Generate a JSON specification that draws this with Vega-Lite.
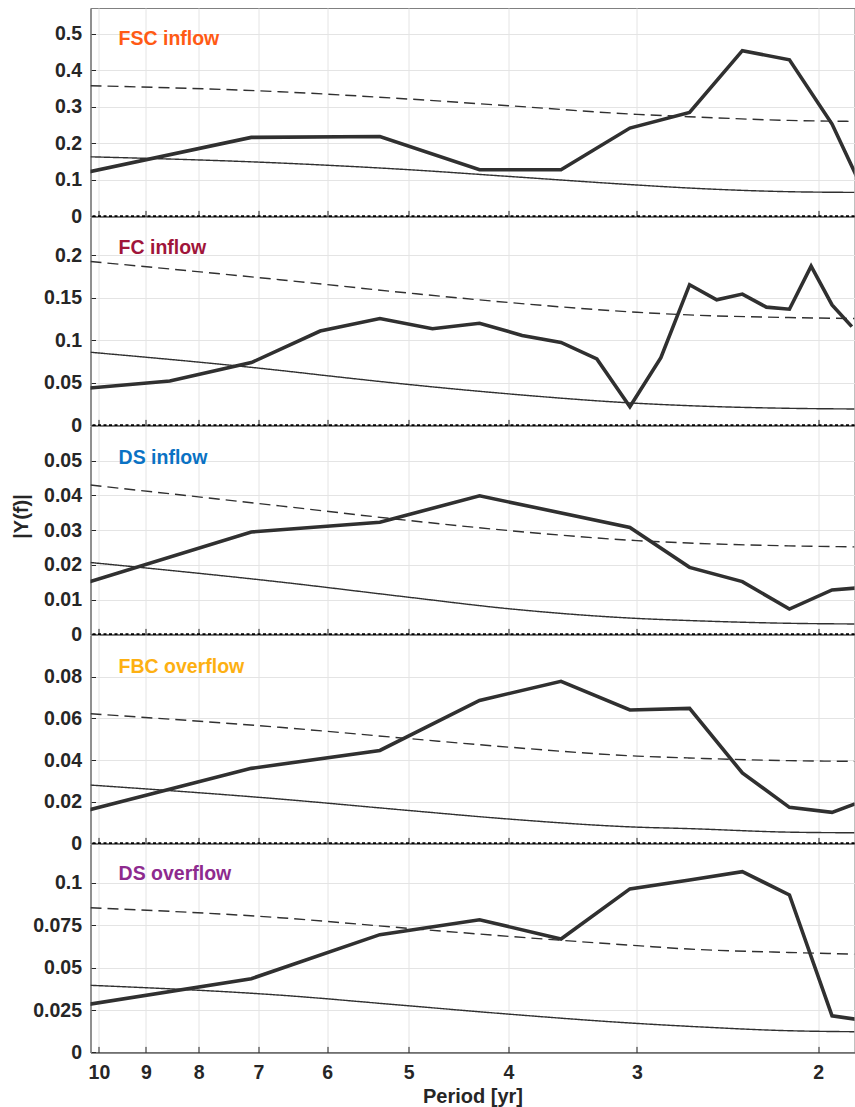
{
"$schema": "https://vega.github.io/schema/vega-lite/v6.json",
"background": "white",
"padding": {"left": 10.5, "top": 7, "right": 0, "bottom": 0},
"bounds": "flush",
"spacing": 0,
"config": {
 "font": "Liberation Sans",
 "view": {"stroke": "#808080", "strokeWidth": 1},
 "axis": {"labelFont": "Liberation Sans", "labelFontWeight": "bold", "labelFontSize": 19.5, "labelColor": "#262626", "titleFont": "Liberation Sans", "titleFontWeight": "bold", "titleFontSize": 20, "titleColor": "#262626", "gridColor": "#e4e4e4", "gridWidth": 1, "gridOpacity": 1, "tickColor": "#262626", "labelFlush": false, "labelOverlap": false}
},
"datasets": {
 "d": [
  {"p":"FSC","s":"obs","period":10.667,"v":0.111},
  {"p":"FSC","s":"obs","period":7.111,"v":0.2165},
  {"p":"FSC","s":"obs","period":5.333,"v":0.219},
  {"p":"FSC","s":"obs","period":4.267,"v":0.128},
  {"p":"FSC","s":"obs","period":3.556,"v":0.128},
  {"p":"FSC","s":"obs","period":3.048,"v":0.242},
  {"p":"FSC","s":"obs","period":2.667,"v":0.285},
  {"p":"FSC","s":"obs","period":2.370,"v":0.454},
  {"p":"FSC","s":"obs","period":2.133,"v":0.429},
  {"p":"FSC","s":"obs","period":1.939,"v":0.253},
  {"p":"FSC","s":"obs","period":1.778,"v":0.027},
  {"p":"FSC","s":"red","period":10.19,"v":0.1633},
  {"p":"FSC","s":"red","period":6.674,"v":0.1463},
  {"p":"FSC","s":"red","period":5,"v":0.128},
  {"p":"FSC","s":"red","period":4,"v":0.1096},
  {"p":"FSC","s":"red","period":3,"v":0.086},
  {"p":"FSC","s":"red","period":2.673,"v":0.0778},
  {"p":"FSC","s":"red","period":2.137,"v":0.0677},
  {"p":"FSC","s":"red","period":1.844,"v":0.0658},
  {"p":"FSC","s":"conf","period":10.19,"v":0.358},
  {"p":"FSC","s":"conf","period":6.674,"v":0.3416},
  {"p":"FSC","s":"conf","period":5,"v":0.3216},
  {"p":"FSC","s":"conf","period":4,"v":0.3033},
  {"p":"FSC","s":"conf","period":3,"v":0.2795},
  {"p":"FSC","s":"conf","period":2.673,"v":0.2732},
  {"p":"FSC","s":"conf","period":2.137,"v":0.263},
  {"p":"FSC","s":"conf","period":1.844,"v":0.2603},

  {"p":"FC","s":"obs","period":10.667,"v":0.042},
  {"p":"FC","s":"obs","period":8.533,"v":0.0521},
  {"p":"FC","s":"obs","period":7.111,"v":0.0738},
  {"p":"FC","s":"obs","period":6.095,"v":0.1109},
  {"p":"FC","s":"obs","period":5.333,"v":0.1256},
  {"p":"FC","s":"obs","period":4.741,"v":0.1137},
  {"p":"FC","s":"obs","period":4.267,"v":0.12},
  {"p":"FC","s":"obs","period":3.879,"v":0.1058},
  {"p":"FC","s":"obs","period":3.556,"v":0.0975},
  {"p":"FC","s":"obs","period":3.282,"v":0.0782},
  {"p":"FC","s":"obs","period":3.048,"v":0.022},
  {"p":"FC","s":"obs","period":2.844,"v":0.0797},
  {"p":"FC","s":"obs","period":2.667,"v":0.1654},
  {"p":"FC","s":"obs","period":2.510,"v":0.1477},
  {"p":"FC","s":"obs","period":2.370,"v":0.1544},
  {"p":"FC","s":"obs","period":2.246,"v":0.139},
  {"p":"FC","s":"obs","period":2.133,"v":0.1366},
  {"p":"FC","s":"obs","period":2.032,"v":0.1872},
  {"p":"FC","s":"obs","period":1.939,"v":0.1417},
  {"p":"FC","s":"obs","period":1.855,"v":0.1161},
  {"p":"FC","s":"red","period":10.19,"v":0.086},
  {"p":"FC","s":"red","period":6.674,"v":0.0647},
  {"p":"FC","s":"red","period":6,"v":0.0584},
  {"p":"FC","s":"red","period":5,"v":0.0481},
  {"p":"FC","s":"red","period":4,"v":0.0371},
  {"p":"FC","s":"red","period":3,"v":0.026},
  {"p":"FC","s":"red","period":2.673,"v":0.0232},
  {"p":"FC","s":"red","period":2.137,"v":0.0201},
  {"p":"FC","s":"red","period":1.844,"v":0.0193},
  {"p":"FC","s":"conf","period":10.19,"v":0.1927},
  {"p":"FC","s":"conf","period":6.674,"v":0.1713},
  {"p":"FC","s":"conf","period":5,"v":0.1556},
  {"p":"FC","s":"conf","period":4,"v":0.1445},
  {"p":"FC","s":"conf","period":3,"v":0.133},
  {"p":"FC","s":"conf","period":2.673,"v":0.1299},
  {"p":"FC","s":"conf","period":2.137,"v":0.1268},
  {"p":"FC","s":"conf","period":1.844,"v":0.1256},

  {"p":"DSI","s":"obs","period":10.667,"v":0.0134},
  {"p":"DSI","s":"obs","period":7.111,"v":0.0295},
  {"p":"DSI","s":"obs","period":5.333,"v":0.0323},
  {"p":"DSI","s":"obs","period":4.267,"v":0.0399},
  {"p":"DSI","s":"obs","period":3.048,"v":0.0308},
  {"p":"DSI","s":"obs","period":2.667,"v":0.0193},
  {"p":"DSI","s":"obs","period":2.370,"v":0.0152},
  {"p":"DSI","s":"obs","period":2.133,"v":0.0073},
  {"p":"DSI","s":"obs","period":1.939,"v":0.0128},
  {"p":"DSI","s":"obs","period":1.778,"v":0.0137},
  {"p":"DSI","s":"red","period":10.19,"v":0.0207},
  {"p":"DSI","s":"red","period":6.674,"v":0.0151},
  {"p":"DSI","s":"red","period":5,"v":0.0107},
  {"p":"DSI","s":"red","period":4,"v":0.0074},
  {"p":"DSI","s":"red","period":3,"v":0.0046},
  {"p":"DSI","s":"red","period":2.673,"v":0.004},
  {"p":"DSI","s":"red","period":2.137,"v":0.0032},
  {"p":"DSI","s":"red","period":1.844,"v":0.003},
  {"p":"DSI","s":"conf","period":10.19,"v":0.043},
  {"p":"DSI","s":"conf","period":6.674,"v":0.037},
  {"p":"DSI","s":"conf","period":5,"v":0.0328},
  {"p":"DSI","s":"conf","period":4,"v":0.0299},
  {"p":"DSI","s":"conf","period":3,"v":0.027},
  {"p":"DSI","s":"conf","period":2.673,"v":0.0263},
  {"p":"DSI","s":"conf","period":2.137,"v":0.0255},
  {"p":"DSI","s":"conf","period":1.844,"v":0.0252},

  {"p":"FBC","s":"obs","period":10.667,"v":0.0138},
  {"p":"FBC","s":"obs","period":7.111,"v":0.036},
  {"p":"FBC","s":"obs","period":5.333,"v":0.0446},
  {"p":"FBC","s":"obs","period":4.267,"v":0.0686},
  {"p":"FBC","s":"obs","period":3.556,"v":0.0778},
  {"p":"FBC","s":"obs","period":3.048,"v":0.064},
  {"p":"FBC","s":"obs","period":2.667,"v":0.0648},
  {"p":"FBC","s":"obs","period":2.370,"v":0.0338},
  {"p":"FBC","s":"obs","period":2.133,"v":0.0173},
  {"p":"FBC","s":"obs","period":1.939,"v":0.0149},
  {"p":"FBC","s":"obs","period":1.778,"v":0.0218},
  {"p":"FBC","s":"red","period":10.19,"v":0.028},
  {"p":"FBC","s":"red","period":6.674,"v":0.0213},
  {"p":"FBC","s":"red","period":5,"v":0.0158},
  {"p":"FBC","s":"red","period":4,"v":0.0117},
  {"p":"FBC","s":"red","period":3,"v":0.0078},
  {"p":"FBC","s":"red","period":2.673,"v":0.0071},
  {"p":"FBC","s":"red","period":2.137,"v":0.0054},
  {"p":"FBC","s":"red","period":1.844,"v":0.0051},
  {"p":"FBC","s":"conf","period":10.19,"v":0.0622},
  {"p":"FBC","s":"conf","period":6.674,"v":0.0557},
  {"p":"FBC","s":"conf","period":5,"v":0.0503},
  {"p":"FBC","s":"conf","period":4,"v":0.0462},
  {"p":"FBC","s":"conf","period":3,"v":0.0419},
  {"p":"FBC","s":"conf","period":2.673,"v":0.041},
  {"p":"FBC","s":"conf","period":2.137,"v":0.0397},
  {"p":"FBC","s":"conf","period":1.844,"v":0.0394},

  {"p":"DSO","s":"obs","period":10.667,"v":0.0266},
  {"p":"DSO","s":"obs","period":7.111,"v":0.0435},
  {"p":"DSO","s":"obs","period":5.333,"v":0.0695},
  {"p":"DSO","s":"obs","period":4.267,"v":0.0783},
  {"p":"DSO","s":"obs","period":3.556,"v":0.0669},
  {"p":"DSO","s":"obs","period":3.048,"v":0.0965},
  {"p":"DSO","s":"obs","period":2.667,"v":0.1018},
  {"p":"DSO","s":"obs","period":2.370,"v":0.1067},
  {"p":"DSO","s":"obs","period":2.133,"v":0.0929},
  {"p":"DSO","s":"obs","period":1.939,"v":0.0216},
  {"p":"DSO","s":"obs","period":1.778,"v":0.0183},
  {"p":"DSO","s":"red","period":10.19,"v":0.0396},
  {"p":"DSO","s":"red","period":6.674,"v":0.0338},
  {"p":"DSO","s":"red","period":5,"v":0.0275},
  {"p":"DSO","s":"red","period":4,"v":0.0226},
  {"p":"DSO","s":"red","period":3,"v":0.0171},
  {"p":"DSO","s":"red","period":2.673,"v":0.0154},
  {"p":"DSO","s":"red","period":2.137,"v":0.0128},
  {"p":"DSO","s":"red","period":1.844,"v":0.0122},
  {"p":"DSO","s":"conf","period":10.19,"v":0.0854},
  {"p":"DSO","s":"conf","period":6.674,"v":0.0795},
  {"p":"DSO","s":"conf","period":5,"v":0.0732},
  {"p":"DSO","s":"conf","period":4,"v":0.0685},
  {"p":"DSO","s":"conf","period":3,"v":0.063},
  {"p":"DSO","s":"conf","period":2.673,"v":0.061},
  {"p":"DSO","s":"conf","period":2.137,"v":0.059},
  {"p":"DSO","s":"conf","period":1.844,"v":0.058}
 ]
},
"vconcat": [
 {"width": 764, "height": 208.4,
  "layer": [
   {"data": {"values": [{}]}, "mark": {"type": "rule", "color": "#000000", "strokeWidth": 2.4, "strokeDash": [3, 2.5]}, "encoding": {"y": {"datum": 0, "type": "quantitative"}}},
   {"data": {"name": "d"}, "transform": [{"filter": "datum.p === 'FSC' && datum.s !== 'obs'"}],
    "mark": {"type": "line", "interpolate": "monotone", "clip": true, "color": "#303030", "strokeWidth": 1.4},
    "encoding": {
     "x": {"field": "period", "type": "quantitative", "scale": {"type": "log", "domain": [1.844, 10.19], "reverse": true, "nice": false}, "axis": {"values": [2,3,4,5,6,7,8,9,10], "format": "d", "grid": true, "labels": false, "title": null, "tickSize": -6, "domainColor": "#262626"}},
     "y": {"field": "v", "type": "quantitative", "scale": {"domain": [0, 0.571], "nice": false, "zero": false}, "axis": {"values": [0, 0.1, 0.2, 0.3, 0.4, 0.5], "format": "~g", "grid": true, "title": null, "tickSize": -5, "labelPadding": 14, "domainColor": "#808080", "domainWidth": 1.5}},
     "detail": {"field": "s"},
     "strokeDash": {"field": "s", "type": "nominal", "scale": {"domain": ["red", "conf"], "range": [[1, 0], [11, 6]]}, "legend": null}
    }},
   {"data": {"name": "d"}, "transform": [{"filter": "datum.p === 'FSC' && datum.s === 'obs'"}],
    "mark": {"type": "line", "clip": true, "color": "#303030", "strokeWidth": 3.6},
    "encoding": {"x": {"field": "period", "type": "quantitative"}, "y": {"field": "v", "type": "quantitative"}}},
   {"data": {"values": [{"label": "FSC inflow"}]}, "mark": {"type": "text", "align": "left", "baseline": "alphabetic", "fontSize": 19.5, "fontWeight": "bold", "color": "#FF5A14", "font": "Liberation Sans"},
    "encoding": {"x": {"datum": 9.57}, "y": {"datum": 0.47}, "text": {"field": "label"}}}
  ]},
 {"width": 764, "height": 208.4,
  "layer": [
   {"data": {"values": [{}]}, "mark": {"type": "rule", "color": "#000000", "strokeWidth": 2.4, "strokeDash": [3, 2.5]}, "encoding": {"y": {"datum": 0, "type": "quantitative"}}},
   {"data": {"name": "d"}, "transform": [{"filter": "datum.p === 'FC' && datum.s !== 'obs'"}],
    "mark": {"type": "line", "interpolate": "monotone", "clip": true, "color": "#303030", "strokeWidth": 1.4},
    "encoding": {
     "x": {"field": "period", "type": "quantitative", "scale": {"type": "log", "domain": [1.844, 10.19], "reverse": true, "nice": false}, "axis": {"values": [2,3,4,5,6,7,8,9,10], "format": "d", "grid": true, "labels": false, "title": null, "tickSize": -6, "domainColor": "#262626"}},
     "y": {"field": "v", "type": "quantitative", "scale": {"domain": [0, 0.245], "nice": false, "zero": false}, "axis": {"values": [0, 0.05, 0.1, 0.15, 0.2], "format": "~g", "grid": true, "title": null, "tickSize": -5, "labelPadding": 14, "domainColor": "#808080", "domainWidth": 1.5}},
     "detail": {"field": "s"},
     "strokeDash": {"field": "s", "type": "nominal", "scale": {"domain": ["red", "conf"], "range": [[1, 0], [11, 6]]}, "legend": null}
    }},
   {"data": {"name": "d"}, "transform": [{"filter": "datum.p === 'FC' && datum.s === 'obs'"}],
    "mark": {"type": "line", "clip": true, "color": "#303030", "strokeWidth": 3.6},
    "encoding": {"x": {"field": "period", "type": "quantitative"}, "y": {"field": "v", "type": "quantitative"}}},
   {"data": {"values": [{"label": "FC inflow"}]}, "mark": {"type": "text", "align": "left", "baseline": "alphabetic", "fontSize": 19.5, "fontWeight": "bold", "color": "#A0153A", "font": "Liberation Sans"},
    "encoding": {"x": {"datum": 9.57}, "y": {"datum": 0.202}, "text": {"field": "label"}}}
  ]},
 {"width": 764, "height": 208.4,
  "layer": [
   {"data": {"values": [{}]}, "mark": {"type": "rule", "color": "#000000", "strokeWidth": 2.4, "strokeDash": [3, 2.5]}, "encoding": {"y": {"datum": 0, "type": "quantitative"}}},
   {"data": {"name": "d"}, "transform": [{"filter": "datum.p === 'DSI' && datum.s !== 'obs'"}],
    "mark": {"type": "line", "interpolate": "monotone", "clip": true, "color": "#303030", "strokeWidth": 1.4},
    "encoding": {
     "x": {"field": "period", "type": "quantitative", "scale": {"type": "log", "domain": [1.844, 10.19], "reverse": true, "nice": false}, "axis": {"values": [2,3,4,5,6,7,8,9,10], "format": "d", "grid": true, "labels": false, "title": null, "tickSize": -6, "domainColor": "#262626"}},
     "y": {"field": "v", "type": "quantitative", "scale": {"domain": [0, 0.06], "nice": false, "zero": false}, "axis": {"values": [0, 0.01, 0.02, 0.03, 0.04, 0.05], "format": "~g", "grid": true, "title": "|Y(f)|", "titlePadding": 12, "titleY": 90, "tickSize": -5, "labelPadding": 14, "domainColor": "#808080", "domainWidth": 1.5}},
     "detail": {"field": "s"},
     "strokeDash": {"field": "s", "type": "nominal", "scale": {"domain": ["red", "conf"], "range": [[1, 0], [11, 6]]}, "legend": null}
    }},
   {"data": {"name": "d"}, "transform": [{"filter": "datum.p === 'DSI' && datum.s === 'obs'"}],
    "mark": {"type": "line", "clip": true, "color": "#303030", "strokeWidth": 3.6},
    "encoding": {"x": {"field": "period", "type": "quantitative"}, "y": {"field": "v", "type": "quantitative"}}},
   {"data": {"values": [{"label": "DS inflow"}]}, "mark": {"type": "text", "align": "left", "baseline": "alphabetic", "fontSize": 19.5, "fontWeight": "bold", "color": "#0A72C4", "font": "Liberation Sans"},
    "encoding": {"x": {"datum": 9.57}, "y": {"datum": 0.049}, "text": {"field": "label"}}}
  ]},
 {"width": 764, "height": 208.4,
  "layer": [
   {"data": {"values": [{}]}, "mark": {"type": "rule", "color": "#000000", "strokeWidth": 2.4, "strokeDash": [3, 2.5]}, "encoding": {"y": {"datum": 0, "type": "quantitative"}}},
   {"data": {"name": "d"}, "transform": [{"filter": "datum.p === 'FBC' && datum.s !== 'obs'"}],
    "mark": {"type": "line", "interpolate": "monotone", "clip": true, "color": "#303030", "strokeWidth": 1.4},
    "encoding": {
     "x": {"field": "period", "type": "quantitative", "scale": {"type": "log", "domain": [1.844, 10.19], "reverse": true, "nice": false}, "axis": {"values": [2,3,4,5,6,7,8,9,10], "format": "d", "grid": true, "labels": false, "title": null, "tickSize": -6, "domainColor": "#262626"}},
     "y": {"field": "v", "type": "quantitative", "scale": {"domain": [0, 0.1], "nice": false, "zero": false}, "axis": {"values": [0, 0.02, 0.04, 0.06, 0.08], "format": "~g", "grid": true, "title": null, "tickSize": -5, "labelPadding": 14, "domainColor": "#808080", "domainWidth": 1.5}},
     "detail": {"field": "s"},
     "strokeDash": {"field": "s", "type": "nominal", "scale": {"domain": ["red", "conf"], "range": [[1, 0], [11, 6]]}, "legend": null}
    }},
   {"data": {"name": "d"}, "transform": [{"filter": "datum.p === 'FBC' && datum.s === 'obs'"}],
    "mark": {"type": "line", "clip": true, "color": "#303030", "strokeWidth": 3.6},
    "encoding": {"x": {"field": "period", "type": "quantitative"}, "y": {"field": "v", "type": "quantitative"}}},
   {"data": {"values": [{"label": "FBC overflow"}]}, "mark": {"type": "text", "align": "left", "baseline": "alphabetic", "fontSize": 19.5, "fontWeight": "bold", "color": "#FDB012", "font": "Liberation Sans"},
    "encoding": {"x": {"datum": 9.57}, "y": {"datum": 0.082}, "text": {"field": "label"}}}
  ]},
 {"width": 764, "height": 208.4,
  "layer": [
   {"data": {"name": "d"}, "transform": [{"filter": "datum.p === 'DSO' && datum.s !== 'obs'"}],
    "mark": {"type": "line", "interpolate": "monotone", "clip": true, "color": "#303030", "strokeWidth": 1.4},
    "encoding": {
     "x": {"field": "period", "type": "quantitative", "scale": {"type": "log", "domain": [1.844, 10.19], "reverse": true, "nice": false}, "axis": {"values": [2,3,4,5,6,7,8,9,10], "format": "d", "grid": true, "labels": true, "title": "Period [yr]", "tickSize": -6, "labelPadding": 17.5, "titlePadding": 4.5, "domainColor": "#262626"}},
     "y": {"field": "v", "type": "quantitative", "scale": {"domain": [0, 0.123], "nice": false, "zero": false}, "axis": {"values": [0, 0.025, 0.05, 0.075, 0.1], "format": "~g", "grid": true, "title": null, "tickSize": -5, "labelPadding": 14, "domainColor": "#808080", "domainWidth": 1.5}},
     "detail": {"field": "s"},
     "strokeDash": {"field": "s", "type": "nominal", "scale": {"domain": ["red", "conf"], "range": [[1, 0], [11, 6]]}, "legend": null}
    }},
   {"data": {"name": "d"}, "transform": [{"filter": "datum.p === 'DSO' && datum.s === 'obs'"}],
    "mark": {"type": "line", "clip": true, "color": "#303030", "strokeWidth": 3.6},
    "encoding": {"x": {"field": "period", "type": "quantitative"}, "y": {"field": "v", "type": "quantitative"}}},
   {"data": {"values": [{"label": "DS overflow"}]}, "mark": {"type": "text", "align": "left", "baseline": "alphabetic", "fontSize": 19.5, "fontWeight": "bold", "color": "#8E2A8E", "font": "Liberation Sans"},
    "encoding": {"x": {"datum": 9.57}, "y": {"datum": 0.1016}, "text": {"field": "label"}}}
  ]}
]
}
